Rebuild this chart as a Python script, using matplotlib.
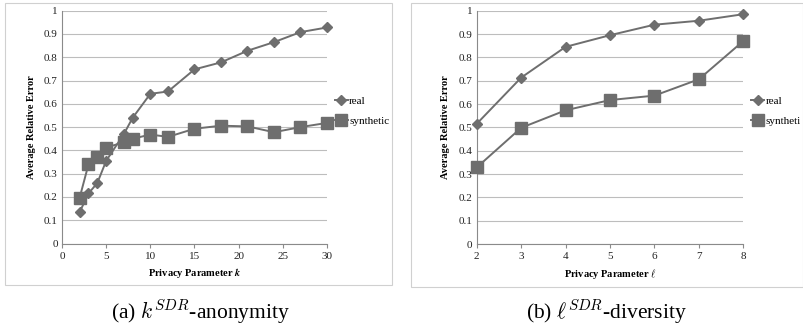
import matplotlib
matplotlib.use("Agg")
import matplotlib.pyplot as plt
from matplotlib.patches import Rectangle

plt.rcParams['font.family'] = ['Liberation Serif', 'DejaVu Serif']
plt.rcParams['mathtext.fontset'] = 'cm'

k_vals = [2, 3, 4, 5, 7, 8, 10, 12, 15, 18, 21, 24, 27, 30]
k_real = [0.135, 0.215, 0.26, 0.355, 0.47, 0.54, 0.643, 0.653, 0.748, 0.778, 0.828, 0.865, 0.908, 0.928]
k_synth = [0.197, 0.34, 0.373, 0.412, 0.435, 0.45, 0.468, 0.458, 0.493, 0.506, 0.503, 0.478, 0.5, 0.518]

l_vals = [2, 3, 4, 5, 6, 7, 8]
l_real = [0.515, 0.713, 0.845, 0.895, 0.94, 0.957, 0.985]
l_synth = [0.328, 0.498, 0.573, 0.617, 0.636, 0.706, 0.87]

y_ticks = [0, 0.1, 0.2, 0.3, 0.4, 0.5, 0.6, 0.7, 0.8, 0.9, 1]
y_ticklabels = ['0', '0.1', '0.2', '0.3', '0.4', '0.5', '0.6', '0.7', '0.8', '0.9', '1']

W, H = 804, 335
fig = plt.figure(figsize=(W / 100, H / 100), dpi=100)

col = '#6e6e6e'
grid_col = '#bdbdbd'

def style(ax):
    ax.set_ylim(0, 1)
    ax.set_yticks(y_ticks)
    ax.set_yticklabels(y_ticklabels)
    ax.grid(axis='y', color=grid_col, linewidth=0.8)
    ax.set_axisbelow(True)
    for s in ['top', 'right']:
        ax.spines[s].set_visible(False)
    ax.spines['left'].set_color('#8a8a8a')
    ax.spines['bottom'].set_color('#8a8a8a')
    ax.tick_params(axis='both', labelsize=8, length=0, pad=3, colors='#222222')
    ax.tick_params(axis='x', length=3, direction='out', color='#8a8a8a')
    ax.set_ylabel('Average Relative Error', fontsize=7.5, fontweight='bold', labelpad=6)

# panel borders
fig.add_artist(Rectangle((5 / W, 1 - 285 / H), (392 - 5) / W, (285 - 3) / H,
                         transform=fig.transFigure, fill=False, edgecolor='#d0d0d0', linewidth=0.8))
fig.add_artist(Rectangle((411 / W, 1 - 287 / H), (803 - 411) / W, (287 - 3) / H,
                         transform=fig.transFigure, fill=False, edgecolor='#d0d0d0', linewidth=0.8))

# left axes
ax1 = fig.add_axes([62 / W, 1 - 243.5 / H, (327 - 62) / W, (243.5 - 10.7) / H])
ax1.plot(k_vals, k_real, color=col, marker='D', markersize=5, linewidth=1.4, label='real', clip_on=False, zorder=4)
ax1.plot(k_vals, k_synth, color=col, marker='s', markersize=8, linewidth=1.4, label='synthetic', clip_on=False, zorder=3)
ax1.set_xlim(0, 30)
ax1.set_xticks([0, 5, 10, 15, 20, 25, 30])
style(ax1)
ax1.set_xlabel('Privacy Parameter $\\boldsymbol{k}$', fontsize=7.5, fontweight='bold', labelpad=4)
ax1.legend(loc='center left', bbox_to_anchor=(1.0, 0.57), frameon=False, fontsize=8,
           handlelength=1.2, handletextpad=0.1, labelspacing=0.9, borderaxespad=0.3)

# right axes
ax2 = fig.add_axes([476.7 / W, 1 - 244 / H, (743.3 - 476.7) / W, (244 - 10.7) / H])
ax2.plot(l_vals, l_real, color=col, marker='D', markersize=5, linewidth=1.4, label='real', clip_on=False, zorder=4)
ax2.plot(l_vals, l_synth, color=col, marker='s', markersize=8, linewidth=1.4, label='syntheti', clip_on=False, zorder=3)
ax2.set_xlim(2, 8)
ax2.set_xticks(l_vals)
style(ax2)
ax2.set_xlabel('Privacy Parameter $\\boldsymbol{\\ell}$', fontsize=7.5, fontweight='bold', labelpad=4)
ax2.legend(loc='center left', bbox_to_anchor=(1.0, 0.57), frameon=False, fontsize=8,
           handlelength=1.2, handletextpad=0.1, labelspacing=0.9, borderaxespad=0.3)

fig.text(200 / W, 1 - 312 / H, '(a) $k^{SDR}$-anonymity', ha='center', va='center', fontsize=15.5)
fig.text(606 / W, 1 - 312 / H, '(b) $\\ell^{SDR}$-diversity', ha='center', va='center', fontsize=15.5)

fig.savefig('out.png', dpi=100)
